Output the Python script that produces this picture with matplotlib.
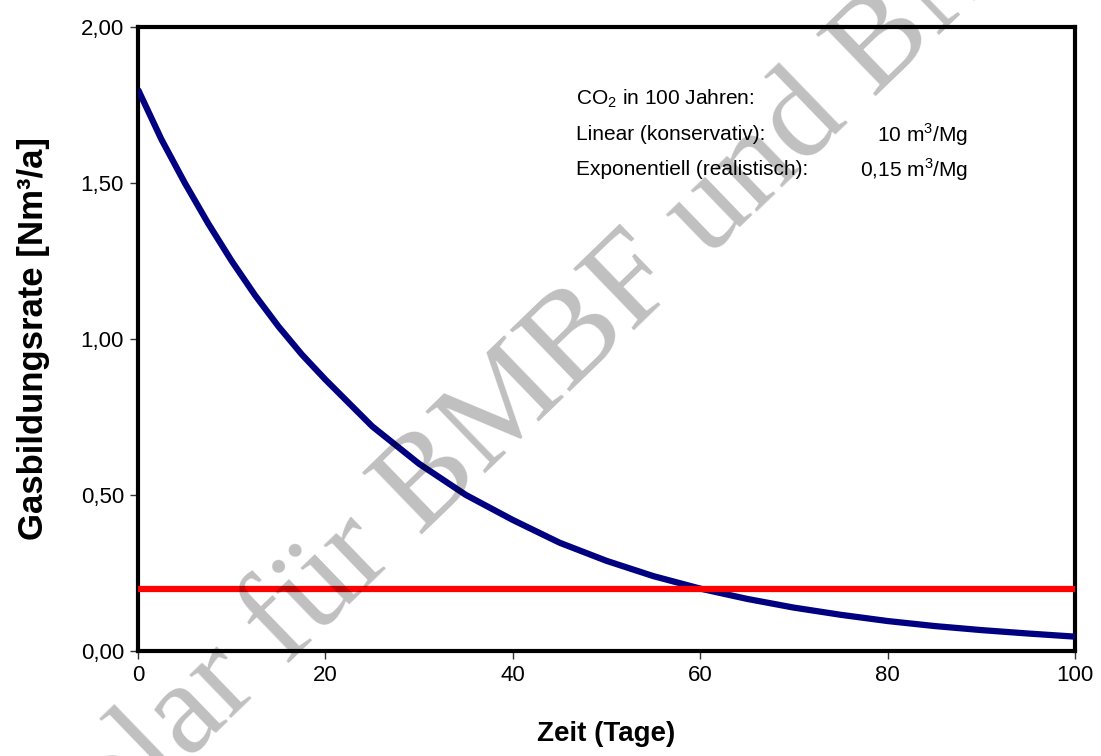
import matplotlib
matplotlib.use("Agg")
import matplotlib.pyplot as plt

plt.rcParams['font.family'] = ['Liberation Sans', 'DejaVu Sans']
plt.rcParams['mathtext.fontset'] = 'custom'
plt.rcParams['mathtext.rm'] = 'Liberation Sans'

# Werte
tage = [0, 2.5, 5, 7.5, 10, 12.5, 15, 17.5, 20, 25, 30, 35, 40, 45, 50,
        55, 60, 65, 70, 75, 80, 85, 90, 95, 100]
rate_exp = [1.80, 1.64, 1.50, 1.37, 1.25, 1.14, 1.04, 0.95, 0.87, 0.72, 0.60,
            0.50, 0.42, 0.347, 0.289, 0.240, 0.200, 0.167, 0.139, 0.116, 0.096,
            0.080, 0.067, 0.056, 0.046]
tage_lin = [0, 100]
rate_lin = [0.20, 0.20]

y_ticks = [0.0, 0.5, 1.0, 1.5, 2.0]
y_labels = ["0,00", "0,50", "1,00", "1,50", "2,00"]
x_ticks = [0, 20, 40, 60, 80, 100]

fig = plt.figure(figsize=(11.01, 7.56), dpi=100)
ax = fig.add_axes([0.1253, 0.1389, 0.8511, 0.8254])

ax.plot(tage, rate_exp, color="#000080", lw=4.5, solid_capstyle="butt", zorder=3)
ax.plot(tage_lin, rate_lin, color="#ff0000", lw=4.5, solid_capstyle="butt", zorder=4)

ax.set_xlim(0, 100)
ax.set_ylim(0, 2)
ax.set_xticks(x_ticks)
ax.set_yticks(y_ticks)
ax.set_yticklabels(y_labels)
ax.tick_params(direction="out", length=6, width=1, color="#333333", labelsize=16)
ax.tick_params(axis="x", pad=4)
ax.tick_params(axis="y", pad=4)
for s in ax.spines.values():
    s.set_linewidth(3)
    s.set_color("black")

ax.set_xlabel("Zeit (Tage)", fontsize=20, fontweight="bold", labelpad=25)
ax.set_ylabel("Gasbildungsrate [Nm³/a]", fontsize=25, fontweight="bold", labelpad=22)

fs = 15
x0, x1 = 0.468, 0.886
ax.text(x0, 0.885, r"CO$_\mathregular{2}$ in 100 Jahren:", transform=ax.transAxes,
        fontsize=fs, va="center", ha="left")
ax.text(x0, 0.827, "Linear (konservativ):", transform=ax.transAxes,
        fontsize=fs, va="center", ha="left")
ax.text(x1, 0.827, r"10 m$^\mathregular{3}$/Mg", transform=ax.transAxes,
        fontsize=fs, va="center", ha="right")
ax.text(x0, 0.771, "Exponentiell (realistisch):", transform=ax.transAxes,
        fontsize=fs, va="center", ha="left")
ax.text(x1, 0.771, r"0,15 m$^\mathregular{3}$/Mg", transform=ax.transAxes,
        fontsize=fs, va="center", ha="right")

# Wasserzeichen
fig.text(0.446, 0.381, "Exemplar für BMBF und BMU", fontsize=95,
         family="Liberation Serif", color="black", alpha=0.25,
         rotation=44, rotation_mode="anchor", ha="center", va="baseline", zorder=10)

fig.savefig("out.png", dpi=100)
